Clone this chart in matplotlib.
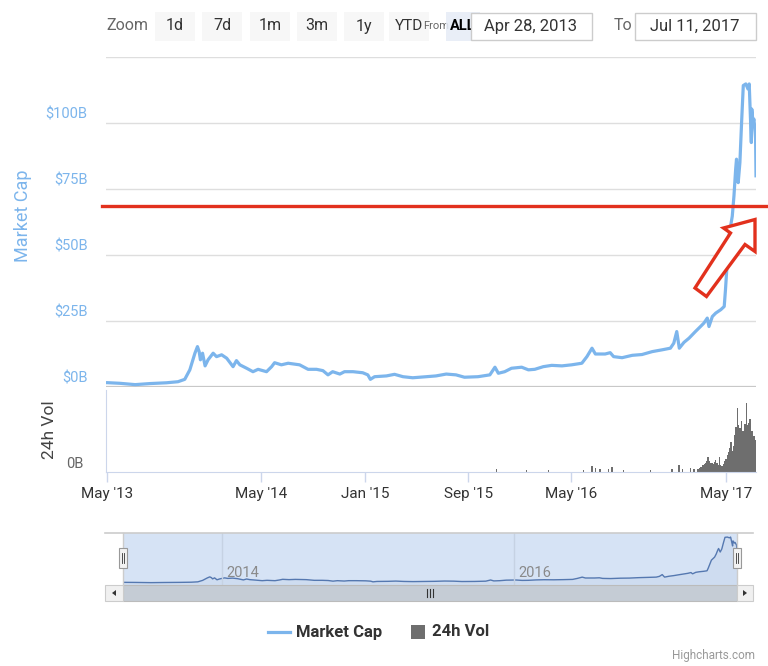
import matplotlib
matplotlib.use('Agg')
import matplotlib.pyplot as plt
import matplotlib.patches as mpatches
from matplotlib.lines import Line2D
import pandas as pd

plt.rcParams['font.family'] = ['Roboto', 'DejaVu Sans']

# total market cap, billions USD
cap_dates = ['2013-04-28', '2013-05-01', '2013-06-01', '2013-07-07', '2013-08-11', '2013-09-19',
             '2013-10-16', '2013-11-01', '2013-11-13', '2013-11-25', '2013-12-01', '2013-12-05',
             '2013-12-08', '2013-12-13', '2013-12-19', '2013-12-26', '2014-01-07', '2014-01-15',
             '2014-01-27', '2014-02-08', '2014-02-23', '2014-03-03', '2014-03-11', '2014-03-27',
             '2014-04-11', '2014-04-23', '2014-05-13', '2014-05-25', '2014-06-01', '2014-06-17',
             '2014-07-03', '2014-07-30', '2014-08-19', '2014-09-08', '2014-09-23', '2014-10-05',
             '2014-10-16', '2014-11-02', '2014-11-13', '2014-12-03', '2014-12-26', '2015-01-07',
             '2015-01-13', '2015-01-23', '2015-02-20', '2015-03-11', '2015-03-31', '2015-04-23',
             '2015-05-25', '2015-06-17', '2015-07-11', '2015-08-03', '2015-08-23', '2015-09-24',
             '2015-10-22', '2015-11-03', '2015-11-11', '2015-11-26', '2015-12-12', '2016-01-05',
             '2016-01-21', '2016-02-05', '2016-02-25', '2016-03-16', '2016-04-09', '2016-05-02',
             '2016-05-26', '2016-06-07', '2016-06-19', '2016-06-27', '2016-07-08', '2016-07-20',
             '2016-08-01', '2016-08-09', '2016-08-29', '2016-09-22', '2016-10-15', '2016-11-08',
             '2016-12-02', '2016-12-21', '2016-12-29', '2017-01-05', '2017-01-11', '2017-01-22',
             '2017-02-03', '2017-02-18', '2017-03-02', '2017-03-10', '2017-03-18', '2017-03-22',
             '2017-03-30', '2017-04-07', '2017-04-19', '2017-04-27', '2017-04-30', '2017-05-04',
             '2017-05-08', '2017-05-16', '2017-05-20', '2017-05-24', '2017-05-26', '2017-05-30',
             '2017-06-03', '2017-06-07', '2017-06-11', '2017-06-17', '2017-06-22', '2017-06-25',
             '2017-06-28', '2017-06-30', '2017-07-01', '2017-07-04', '2017-07-06', '2017-07-09',
             '2017-07-10', '2017-07-11']
cap_values = [1.6, 1.65, 1.4, 0.9, 1.3, 1.6,
              2.0, 2.9, 6.5, 12.8, 15.3, 13.4,
              10.3, 12.8, 8.0, 10.3, 12.8, 11.5,
              12.2, 10.9, 7.7, 10.0, 8.4, 7.1,
              5.8, 6.7, 5.8, 7.7, 9.2, 8.4,
              9.0, 8.4, 6.7, 6.7, 6.2, 4.6,
              5.8, 4.9, 5.8, 5.8, 5.4, 4.6,
              2.9, 3.9, 4.2, 4.8, 3.9, 3.5,
              3.9, 4.2, 4.9, 4.6, 3.7, 3.9,
              4.6, 7.5, 5.2, 5.8, 7.1, 7.5,
              6.5, 6.7, 7.7, 8.2, 8.0, 8.4,
              9.0, 11.5, 14.7, 12.5, 12.5, 12.5,
              13.0, 11.5, 11.1, 12.0, 12.3, 13.4,
              14.1, 14.7, 16.6, 21.0, 14.7, 16.9,
              18.5, 21.0, 22.9, 24.2, 26.1, 22.9,
              26.7, 28.0, 29.3, 30.5, 36.9, 47.0,
              57.1, 64.7, 72.4, 82.5, 86.3, 77.4,
              85.0, 100.2, 114.2, 114.8, 112.9, 114.8,
              101.5, 92.6, 105.3, 100.2, 101.5, 96.4,
              93.9, 80.0]

# 24h volume, billions USD
vol_dates = ['2015-11-07', '2016-01-17', '2016-03-08', '2016-05-30', '2016-06-19', '2016-06-27',
             '2016-07-08', '2016-07-28', '2016-08-05', '2016-09-02', '2016-11-04', '2016-12-25',
             '2017-01-10', '2017-01-18', '2017-02-06', '2017-02-15',
             '2017-02-24', '2017-02-27', '2017-03-02', '2017-03-05', '2017-03-08', '2017-03-11',
             '2017-03-14', '2017-03-17', '2017-03-20', '2017-03-23', '2017-03-26', '2017-03-29',
             '2017-04-01', '2017-04-04', '2017-04-07', '2017-04-10', '2017-04-13', '2017-04-16',
             '2017-04-19', '2017-04-22', '2017-04-25', '2017-04-28', '2017-05-01', '2017-05-04',
             '2017-05-07', '2017-05-10', '2017-05-13', '2017-05-16', '2017-05-19', '2017-05-22',
             '2017-05-25', '2017-05-28', '2017-05-31', '2017-06-03', '2017-06-06', '2017-06-09',
             '2017-06-12', '2017-06-15', '2017-06-18', '2017-06-21', '2017-06-24', '2017-06-27',
             '2017-06-30', '2017-07-03', '2017-07-06', '2017-07-09']
vol_values = [0.2, 0.1, 0.1, 0.12, 0.37, 0.25,
              0.15, 0.2, 0.3, 0.12, 0.1, 0.15,
              0.45, 0.2, 0.25, 0.2,
              0.2, 0.25, 0.3, 0.35, 0.45, 0.55,
              0.6, 0.8, 1.1, 0.75, 0.6, 0.65,
              0.55, 0.7, 0.86, 0.6, 0.5, 1.04,
              0.5, 0.4, 0.55, 0.74, 0.95, 1.2,
              1.4, 1.75, 2.2, 1.5, 1.9, 2.7,
              3.3, 4.7, 3.46, 3.2, 3.7, 3.0,
              2.96, 3.5, 5.06, 3.46, 3.6, 3.83,
              3.0, 2.96, 2.6, 2.35]

tick_dates = ['2013-05-01', '2014-05-01', '2015-01-01', '2015-09-01', '2016-05-01', '2017-05-01']
tick_labels = ["May '13", "May '14", "Jan '15", "Sep '15", "May '16", "May '17"]
cap_ticks = [0, 25, 50, 75, 100]
cap_tick_labels = ['$0B', '$25B', '$50B', '$75B', '$100B']
nav_dates = ['2014-01-01', '2016-01-01']
nav_labels = ['2014', '2016']
range_buttons = ['1d', '7d', '1m', '3m', '1y', 'YTD', 'ALL']
date_from, date_to = 'Apr 28, 2013', 'Jul 11, 2017'
x_start, x_end = pd.Timestamp('2013-04-28'), pd.Timestamp('2017-07-11')
red_level = 68.6

cap_dates = pd.to_datetime(cap_dates)
vol_dates = pd.to_datetime(vol_dates)

W, H = 768, 666
fig = plt.figure(figsize=(W / 100, H / 100), dpi=100)
fig.patch.set_facecolor('white')


def fx(x):
    return x / W


def fy(y):
    return 1 - y / H


def axes_px(l, t, r, b):
    return fig.add_axes([fx(l), fy(b), (r - l) / W, (b - t) / H])


def hline(x0, x1, y, color, lw=1, z=1):
    fig.add_artist(Line2D([fx(x0), fx(x1)], [fy(y), fy(y)], color=color, lw=lw, zorder=z))


def vline(x, y0, y1, color, lw=1, z=1):
    fig.add_artist(Line2D([fx(x), fx(x)], [fy(y0), fy(y1)], color=color, lw=lw, zorder=z))


def rect_px(x0, y0, x1, y1, fc, ec='none', lw=1, z=1, alpha=1):
    fig.add_artist(mpatches.Rectangle((fx(x0), fy(y1)), (x1 - x0) / W, (y1 - y0) / H,
                                      facecolor=fc, edgecolor=ec, lw=lw, zorder=z, alpha=alpha))


# ---- main market cap panel
ax = axes_px(105.5, 57, 756, 387)
ax.plot(cap_dates, cap_values, color='#7cb5ec', lw=2.3, solid_joinstyle='round', zorder=3)
ax.set_xlim(x_start, x_end)
ax.set_ylim(0, 125)
for v in [25, 50, 75, 100, 125]:
    ax.axhline(v, color='#dedede', lw=1, zorder=1)
ax.axhline(0, color='#c8c8c8', lw=1.6, zorder=1)
for v, lab in zip(cap_ticks, cap_tick_labels):
    ax.annotate(lab, xy=(0, v), xycoords=('axes fraction', 'data'), xytext=(-18, 8),
                textcoords='offset pixels', ha='right', va='center', color='#7cb5ec', fontsize=10.5)
ax.set_xticks([])
ax.set_yticks([])
for s in ax.spines.values():
    s.set_visible(False)
ax.patch.set_alpha(0)
fig.text(fx(23), fy(216), 'Market Cap', rotation=90, ha='center', va='center',
         color='#7cb5ec', fontsize=13)

# red annotation line and arrow
ax.axhline(red_level, xmin=-0.005, xmax=1.02, color='#e2311d', lw=2.4, clip_on=False, zorder=5)
arrow_px = [(755, 219.5), (755, 251.5), (745, 244.5), (706.5, 296.5),
            (695, 288), (730.5, 233), (723.5, 228)]
fig.add_artist(mpatches.Polygon([(fx(x), fy(y)) for x, y in arrow_px], closed=True,
                                facecolor='white', edgecolor='#e2311d', lw=2.4,
                                joinstyle='miter', zorder=6))

# ---- volume panel
axv = axes_px(105.5, 390, 756, 471.5)
axv.bar(vol_dates, vol_values, width=3.0, color='#6e6e6e', linewidth=0, align='center')
axv.set_xlim(x_start, x_end)
axv.set_ylim(0, 6)
axv.set_yticks([])
for k in ['top', 'right']:
    axv.spines[k].set_visible(False)
axv.spines['left'].set_color('#ccd6eb')
axv.spines['bottom'].set_color('#ccd6eb')
axv.set_xticks(pd.to_datetime(tick_dates))
axv.set_xticklabels(tick_labels)
axv.tick_params(axis='x', direction='out', length=7, width=1, color='#ccd6eb',
                labelsize=11, labelcolor='#333333', pad=4)
axv.annotate('0B', xy=(0, 0), xycoords=('axes fraction', 'data'), xytext=(-22, 8),
             textcoords='offset pixels', ha='right', va='center', color='#666666', fontsize=10.5)
fig.text(fx(49), fy(430), '24h Vol', rotation=90, ha='center', va='center',
         color='#444444', fontsize=12.5)

# ---- navigator
axn = axes_px(123, 533, 737, 585)
axn.set_facecolor('#d6e3f5')
axn.plot(cap_dates, cap_values, color='#5578b0', lw=1.0)
axn.fill_between(cap_dates, cap_values, -5, color='#5578b0', alpha=0.06, lw=0)
axn.set_xlim(x_start, x_end)
axn.set_ylim(-5, 125)
for d, lab in zip(pd.to_datetime(nav_dates), nav_labels):
    axn.axvline(d, color='#c6d2e3', lw=1)
    axn.annotate(lab, xy=(d, 0), xycoords=('data', 'axes fraction'), xytext=(4, 12),
                 textcoords='offset pixels', ha='left', va='center', color='#8a8a8a', fontsize=10.5)
axn.set_xticks([])
axn.set_yticks([])
for s in axn.spines.values():
    s.set_visible(False)

hline(105, 753, 533, '#cccccc', 1.2, 4)
vline(123, 533, 585, '#cccccc', 1, 4)
vline(737, 533, 585, '#cccccc', 1, 4)
for hx in [123, 737]:
    rect_px(hx - 4, 548, hx + 4, 568, '#f2f2f2', '#999999', 0.8, 5)
    vline(hx - 1, 553, 563, '#333333', 0.6, 6)
    vline(hx + 1, 553, 563, '#333333', 0.6, 6)

# scrollbar
rect_px(123, 585, 737, 601, '#c5ccd5', '#bbbbbb', 0.8, 3)
rect_px(105, 585, 123, 601, '#f0f0f0', '#cccccc', 0.8, 3)
rect_px(737, 585, 753, 601, '#f0f0f0', '#cccccc', 0.8, 3)
for gx in [427, 430, 433]:
    vline(gx, 589, 597, '#333333', 0.8, 4)
fig.add_artist(mpatches.Polygon([(fx(112), fy(593)), (fx(116), fy(590)), (fx(116), fy(596))],
                                facecolor='#333333', edgecolor='none', zorder=4))
fig.add_artist(mpatches.Polygon([(fx(747), fy(593)), (fx(743), fy(590)), (fx(743), fy(596))],
                                facecolor='#333333', edgecolor='none', zorder=4))

# ---- range selector
fig.text(fx(106), fy(26), 'Zoom', ha='left', va='center', color='#666666', fontsize=11.5)
btn_centers = [175, 222, 270, 317, 364, 409, 460]
fig.text(fx(423.5), fy(26), 'From', ha='left', va='center', color='#666666', fontsize=8, zorder=1)
for cx, lab in zip(btn_centers, range_buttons):
    sel = lab == 'ALL'
    if sel:
        rect_px(446, 12, 480, 41, '#e6ecf6', z=2, alpha=0.85)
        fig.text(fx(449.5), fy(26), lab, ha='left', va='center', color='#000000',
                 fontsize=10.5, fontweight='bold', zorder=3)
    else:
        rect_px(cx - 20, 12, cx + 20, 41, '#f7f7f7', z=0.5)
        fig.text(fx(cx), fy(26), lab, ha='center', va='center', color='#333333',
                 fontsize=11.5 if lab != 'YTD' else 11, zorder=3)
rect_px(471, 13, 592, 40, 'white', '#cccccc', 1, 4)
fig.text(fx(531), fy(26.5), date_from, ha='center', va='center', color='#333333', fontsize=12, zorder=5)
fig.text(fx(623), fy(26), 'To', ha='center', va='center', color='#666666', fontsize=11.5)
rect_px(635, 13, 756, 40, 'white', '#cccccc', 1, 4)
fig.text(fx(695), fy(26.5), date_to, ha='center', va='center', color='#333333', fontsize=12, zorder=5)

# ---- legend and credits
fig.add_artist(Line2D([fx(268), fx(290)], [fy(632), fy(632)], color='#7cb5ec', lw=2.3))
fig.text(fx(296), fy(632), 'Market Cap', ha='left', va='center', color='#333333',
         fontsize=12, fontweight='bold')
rect_px(411, 625, 425, 639, '#6e6e6e')
fig.text(fx(432), fy(632), '24h Vol', ha='left', va='center', color='#333333',
         fontsize=12, fontweight='bold')
fig.text(fx(755), fy(655), 'Highcharts.com', ha='right', va='center', color='#999999', fontsize=8.5)

fig.savefig('out.png', dpi=100, facecolor='white')
